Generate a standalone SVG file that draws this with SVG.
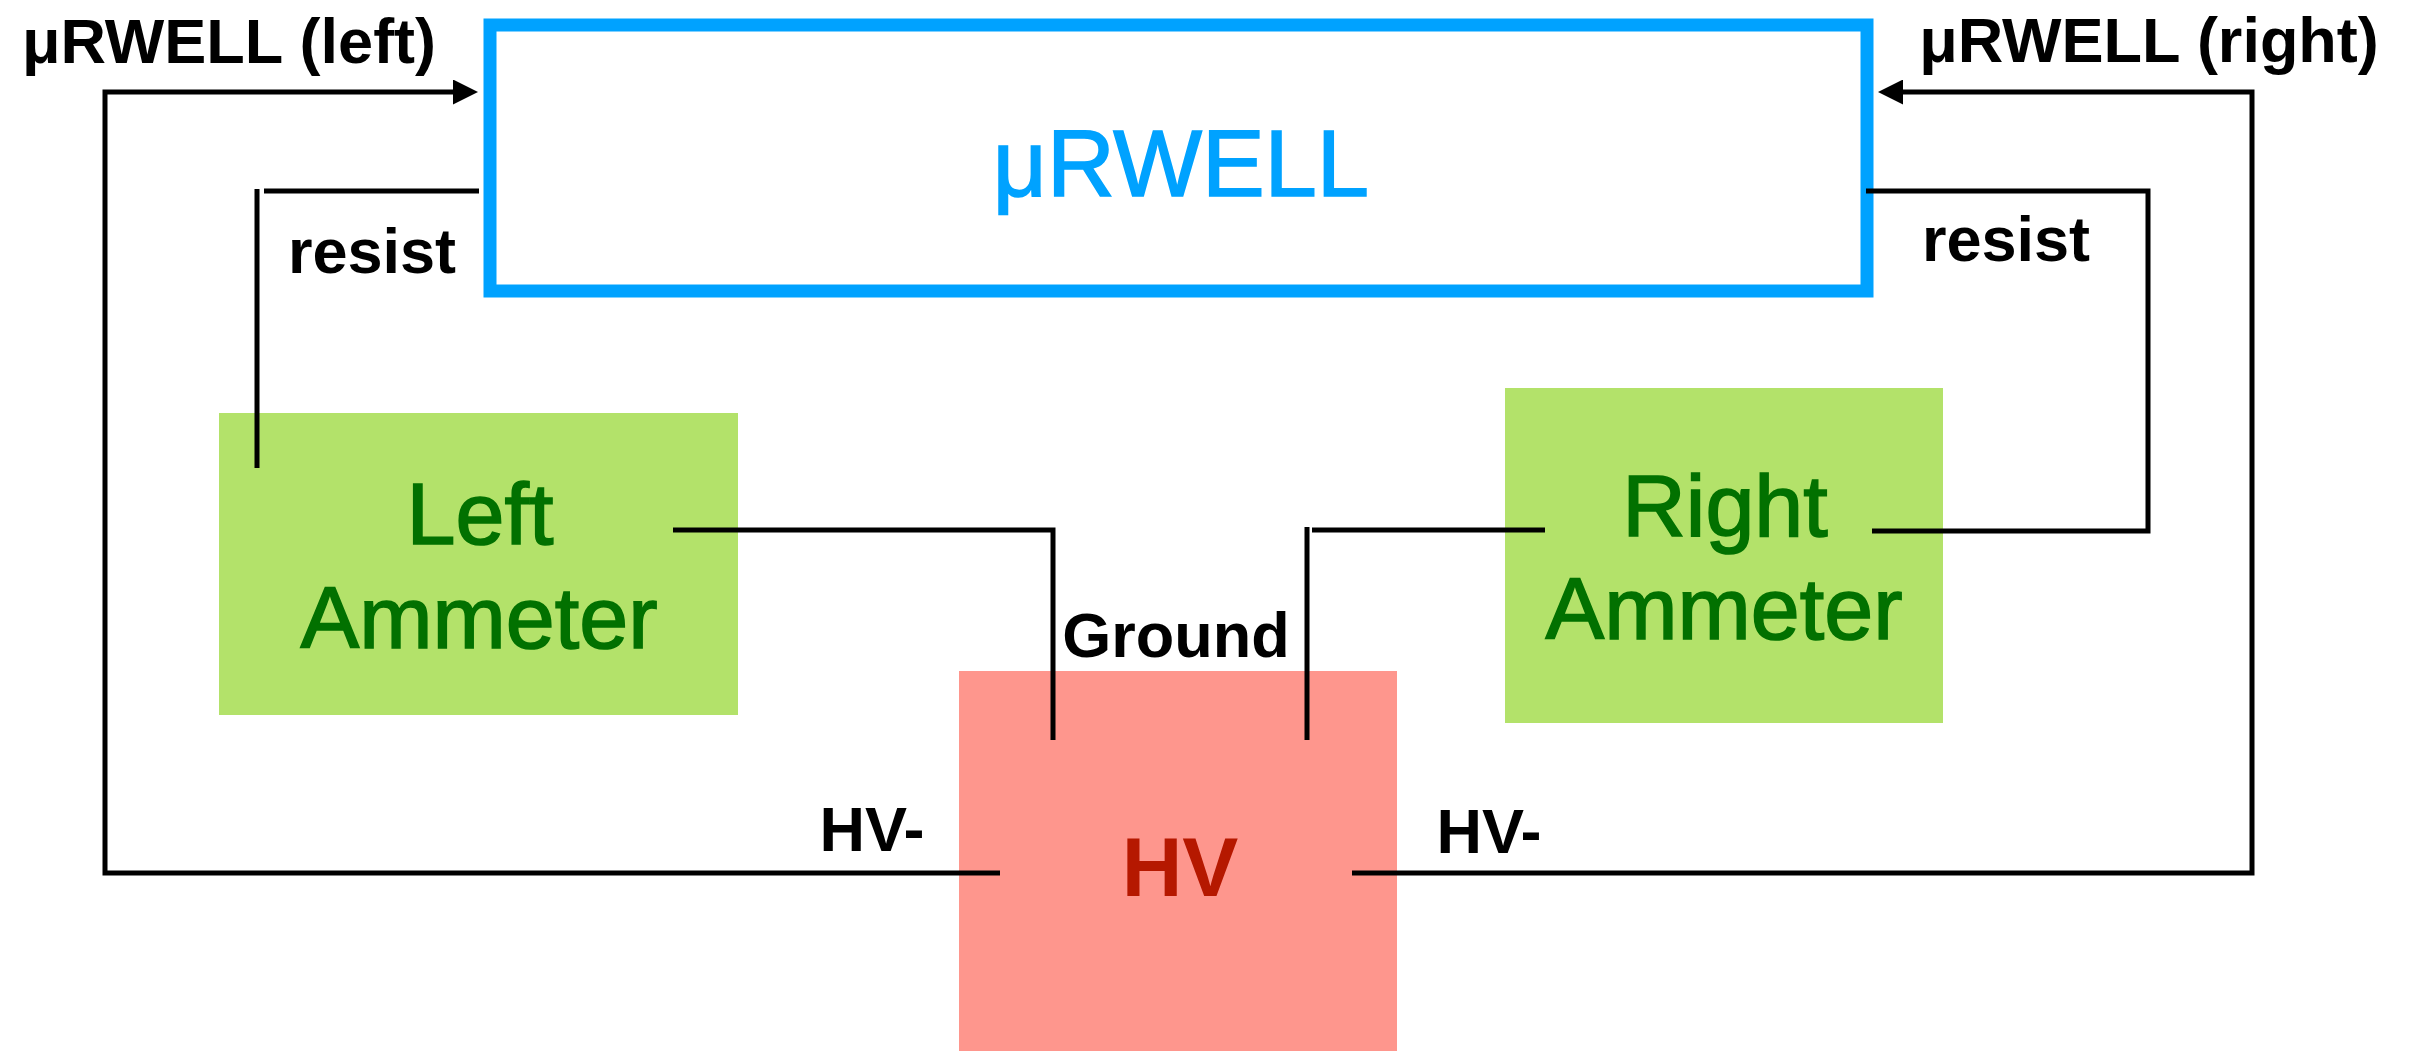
<svg xmlns="http://www.w3.org/2000/svg" width="2409" height="1051" viewBox="0 0 2409 1051">
<style>
.wire{fill:none;stroke:#000;stroke-width:5;stroke-linejoin:miter}
.lbl{font-family:"Liberation Sans",Arial,Helvetica,sans-serif;font-weight:bold;font-size:63px;fill:#000;text-anchor:middle}
.amm{fill:#B3E26A}
.ammt{font-family:"Liberation Sans",Arial,Helvetica,sans-serif;font-size:88px;fill:#027100;stroke:#027100;stroke-width:1.6;text-anchor:middle}
</style>
<defs>
<marker id="arr" viewBox="0 0 25 25" refX="0" refY="12.5" markerWidth="25" markerHeight="25" markerUnits="userSpaceOnUse" orient="auto">
<path d="M0,0 L25,12.5 L0,25 z" fill="#000"/>
</marker>
</defs>
<rect width="2409" height="1051" fill="#fff"/>
<g id="urwell">
<rect x="490" y="25" width="1377" height="266" fill="#fff" stroke="#00A2FF" stroke-width="13"/>
<text x="1181" y="196" font-family="Liberation Sans, Arial, sans-serif" font-size="94" fill="#00A2FF" stroke="#00A2FF" stroke-width="1.6" text-anchor="middle">μRWELL</text>
</g>
<g id="left-ammeter">
<rect class="amm" x="219" y="413" width="519" height="302"/>
<text class="ammt" x="480" y="544">Left</text>
<text class="ammt" x="479" y="648">Ammeter</text>
</g>
<g id="right-ammeter">
<rect class="amm" x="1505" y="388" width="438" height="335"/>
<text class="ammt" x="1725" y="536">Right</text>
<text class="ammt" x="1724" y="639">Ammeter</text>
</g>
<g id="hv">
<rect x="959" y="671" width="438" height="380" fill="#FE968D"/>
<text x="1180" y="896" font-family="Liberation Sans, Arial, sans-serif" font-weight="bold" font-size="84" fill="#B51800" text-anchor="middle">HV</text>
</g>
<g id="connectors">
<path class="wire" d="M1000,873 L105,873 L105,92 L453,92" marker-end="url(#arr)"/>
<path class="wire" d="M1352,873 L2252,873 L2252,92 L1903,92" marker-end="url(#arr)"/>
<path class="wire" d="M479,191 L264,191"/>
<path class="wire" d="M257,189 L257,468"/>
<path class="wire" d="M1866,191 L2148,191 L2148,531 L1872,531"/>
<path class="wire" d="M673,530 L1053,530 L1053,740"/>
<path class="wire" d="M1545,530 L1312,530"/>
<path class="wire" d="M1307,527 L1307,740"/>
</g>
<g id="labels">
<text class="lbl" x="229" y="63">μRWELL (left)</text>
<text class="lbl" x="2149" y="62">μRWELL (right)</text>
<text class="lbl" x="372" y="273">resist</text>
<text class="lbl" x="2006" y="261">resist</text>
<text class="lbl" x="1176" y="657">Ground</text>
<text class="lbl" x="872" y="851">HV-</text>
<text class="lbl" x="1489" y="853">HV-</text>
</g>
</svg>
